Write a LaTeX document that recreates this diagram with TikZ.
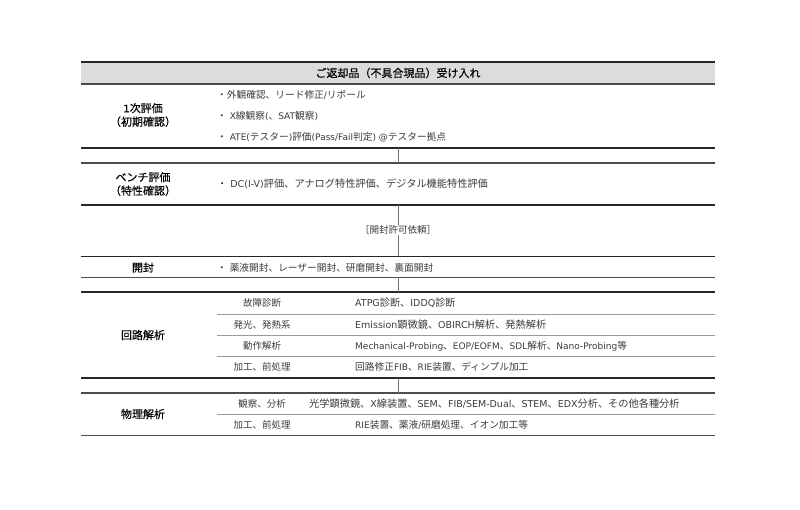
\documentclass[tikz,border=0pt]{standalone}
\usepackage{fontspec}
\setmainfont{DejaVu Sans}[Scale=0.93, BoldFont=DejaVu Sans, BoldFeatures={FakeBold=0.4}]
\newfontfamily\latfont{DejaVu Sans}[Scale=0.93, BoldFont=DejaVu Sans, BoldFeatures={FakeBold=0.4}]
\newfontfamily\jpfont{Noto Sans CJK JP}[BoldFont=Noto Sans CJK JP, BoldFeatures={FakeBold=0.4}]
\usetikzlibrary{positioning}

% Japanese runs switch to the CJK font, Latin runs back to DejaVu
\XeTeXinterchartokenstate=1
\newXeTeXintercharclass\jpclass
\newcount\jpchar
\jpchar="3000
\loop
  \XeTeXcharclass\jpchar=\jpclass
  \ifnum\jpchar<"9FFF \advance\jpchar by 1
\repeat
\jpchar="FF00
\loop
  \XeTeXcharclass\jpchar=\jpclass
  \ifnum\jpchar<"FFEF \advance\jpchar by 1
\repeat
\XeTeXinterchartoks 0 \jpclass = {\jpfont}
\XeTeXinterchartoks 4095 \jpclass = {\jpfont}
\XeTeXinterchartoks \jpclass 0 = {\latfont}
\XeTeXinterchartoks \jpclass 4095 = {\latfont}

\definecolor{headgray}{HTML}{DCDCDC}
\definecolor{rulegray}{HTML}{9A9A9A}
\definecolor{inkgray}{HTML}{3A3A3A}

\tikzset{
  stage/.style={font=\bfseries\fontsize{11}{13.5}\selectfont, align=center, text=black, inner sep=0pt},
  item/.style={anchor=west, font=\fontsize{9.7}{11}\selectfont, text=inkgray, inner sep=0pt},
  itemwide/.style={item, font=\fontsize{10.2}{11}\selectfont},
  method/.style={font=\fontsize{9.5}{11}\selectfont, text=inkgray, inner sep=0pt},
  mainrule/.style={line width=1.1pt, draw=black!85},
  subrule/.style={line width=0.7pt, draw=rulegray},
  link/.style={line width=0.6pt, draw=black!55},
}

\begin{document}
\begin{tikzpicture}[x=1pt, y=-1pt]
    \useasboundingbox (0,0) rectangle (800,510);

    % header bar
    \fill [headgray] (81,62) rectangle (715,84);
    \node [stage] (recv) at (398,73) {ご返却品（不具合現品）受け入れ};

    % 1st evaluation
    \node [stage] (first) at (143,115) {1次評価\\（初期確認）};
    \node [item] (f1) at (217,95)  {・外観確認、リード修正/リポール};
    \node [item] (f2) at (217,116) {・ X線観察(、SAT観察)};
    \node [item] (f3) at (217,137) {・ ATE(テスター)評価(Pass/Fail判定) @テスター拠点};

    % bench evaluation
    \node [stage] (bench) at (143,184) {ベンチ評価\\（特性確認）};
    \node [itemwide] (b1) at (217,184) {・ DC(I-V)評価、アナログ特性評価、デジタル機能特性評価};

    \node [method] (permit) at (398,230) {［開封許可依頼］};

    % decap
    \node [stage] (decap) at (143,267.5) {開封};
    \node [item] (d1) at (217,267.5) {・ 薬液開封、レーザー開封、研磨開封、裏面開封};

    % circuit analysis
    \node [stage] (circ) at (143,335) {回路解析};
    \node [method] (c1) at (262,303)   {故障診断};
    \node [method] (c2) at (262,324.5) {発光、発熱系};
    \node [method] (c3) at (262,346)   {動作解析};
    \node [method] (c4) at (262,367)   {加工、前処理};
    \node [itemwide] (c1t) at (355,303)   {ATPG診断、IDDQ診断};
    \node [itemwide] (c2t) at (355,324.5) {Emission顕微鏡、OBIRCH解析、発熱解析};
    \node [item] (c3t) at (355,346)   {Mechanical-Probing、EOP/EOFM、SDL解析、Nano-Probing等};
    \node [item] (c4t) at (355,367)   {回路修正FIB、RIE装置、ディンプル加工};

    % physical analysis
    \node [stage] (phys) at (143,414) {物理解析};
    \node [method] (p1) at (262,404) {観察、分析};
    \node [method] (p2) at (262,425) {加工、前処理};
    \node [itemwide] (p1t) at (309,404) {光学顕微鏡、X線装置、SEM、FIB/SEM-Dual、STEM、EDX分析、その他各種分析};
    \node [item] (p2t) at (355,425) {RIE装置、薬液/研磨処理、イオン加工等};

    % Now draw the rules:
    \draw [mainrule] (81,62) -- (715,62);
    \draw [mainrule, draw=black!70] (81,84) -- (715,84);
    \draw [mainrule] (81,148) -- (715,148);
    \draw [mainrule, draw=black!70] (81,163) -- (715,163);
    \draw [mainrule] (81,205) -- (715,205);
    \draw [mainrule] (81,256.5) -- (715,256.5);
    \draw [mainrule, draw=black!70] (81,277.5) -- (715,277.5);
    \draw [mainrule] (81,292) -- (715,292);
    \draw [subrule] (217,314) -- (715,314);
    \draw [subrule] (217,335.5) -- (715,335.5);
    \draw [subrule] (217,356.5) -- (715,356.5);
    \draw [mainrule] (81,378) -- (715,378);
    \draw [mainrule, draw=black!70] (81,393) -- (715,393);
    \draw [subrule] (217,414.5) -- (715,414.5);
    \draw [mainrule, draw=black!70] (81,435.5) -- (715,435.5);

    % links between the steps
    \coordinate (s1) at (398,148);
    \coordinate (s2) at (398,163);
    \coordinate (s3) at (398,205);
    \coordinate (s4) at (398,256.5);
    \coordinate (s5) at (398,277.5);
    \coordinate (s6) at (398,292);
    \coordinate (s7) at (398,378);
    \coordinate (s8) at (398,393);
    \draw [link] (s1) -- (s2);
    \draw [link] (s3) -- (permit);
    \draw [link] (permit) -- (s4);
    \draw [link] (s5) -- (s6);
    \draw [link] (s7) -- (s8);
\end{tikzpicture}
\end{document}
